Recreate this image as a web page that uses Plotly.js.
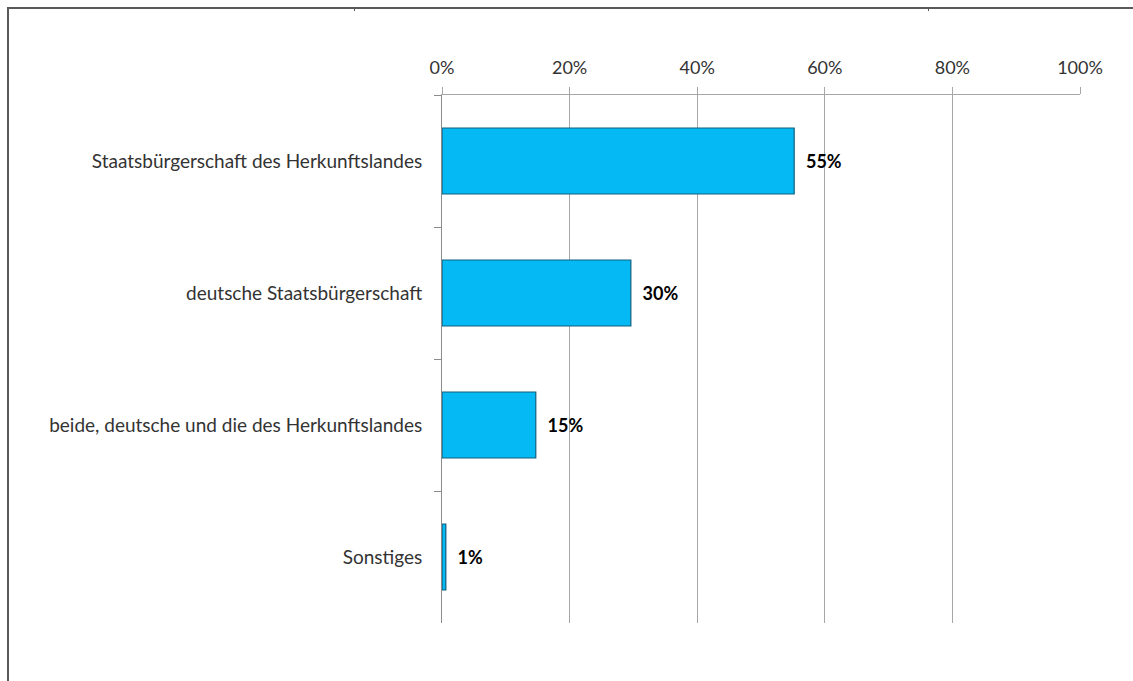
<!DOCTYPE html>
<html>
<head>
<meta charset="utf-8">
<script src="https://cdn.plot.ly/plotly-3.0.1.min.js"></script>
<style>
  html, body { margin: 0; padding: 0; background: #fff; }
  #wrap { position: relative; width: 1133px; height: 681px; overflow: hidden; }
  #chart { position: absolute; left: 0; top: 0; width: 1133px; height: 681px; }
  #frame { position: absolute; left: 7px; top: 7px; width: 1140px; height: 700px;
           border-top: 2px solid #595959; border-left: 2px solid #595959; pointer-events: none; }
  .tk { position: absolute; top: 7px; width: 1px; height: 4px; background: #595959; }
</style>
</head>
<body>
<div id="wrap">
  <div id="chart"></div>
  <div id="frame"></div>
  <div class="tk" style="left:354px"></div>
  <div class="tk" style="left:928px"></div>
</div>
<script>
const categories = [
  "Staatsbürgerschaft des Herkunftslandes",
  "deutsche Staatsbürgerschaft",
  "beide, deutsche und die des Herkunftslandes",
  "Sonstiges"
];
const values = [55.2, 29.6, 14.7, 0.6];
const labels = ["55%", "30%", "15%", "1%"];
const xTicks = [0, 20, 40, 60, 80, 100];

const pad = "\u00A0\u00A0";

const trace = {
  type: "bar",
  orientation: "h",
  y: categories,
  x: values,
  text: labels.map(t => pad + t),
  textposition: "outside",
  cliponaxis: false,
  textfont: { family: "Lato, 'Open Sans', sans-serif", size: 18, color: "#000", weight: "bold" },
  marker: { color: "#05B9F4", line: { color: "#10607E", width: 1.2 } },
  hoverinfo: "none"
};

const layout = {
  width: 1133, height: 681,
  margin: { l: 442, r: 53, t: 95, b: 58, pad: 0 },
  paper_bgcolor: "#fff", plot_bgcolor: "#fff",
  showlegend: false,
  bargap: 0.5,
  font: { family: "Lato, 'Open Sans', sans-serif", size: 18, color: "#333333" },
  xaxis: {
    side: "top",
    range: [0, 100],
    tickvals: xTicks,
    ticktext: xTicks.map(v => v + "%"),
    showgrid: true, gridcolor: "#A6A6A6", gridwidth: 1,
    showline: true, linecolor: "#A6A6A6", linewidth: 1,
    ticks: "outside", ticklen: 7, tickcolor: "#A6A6A6",
    ticklabelstandoff: 6,
    zeroline: false,
    tickfont: { size: 18, color: "#333333" },
    fixedrange: true
  },
  yaxis: {
    type: "category",
    autorange: "reversed",
    showgrid: false,
    showline: true, linecolor: "#8C8C8C", linewidth: 1,
    ticks: "outside", ticklen: 7, tickcolor: "#8C8C8C",
    tickson: "boundaries",
    ticklabelstandoff: 15,
    tickfont: { size: 19, color: "#333333" },
    fixedrange: true
  }
};

Plotly.newPlot("chart", [trace], layout, { staticPlot: true, displayModeBar: false });
</script>
</body>
</html>
